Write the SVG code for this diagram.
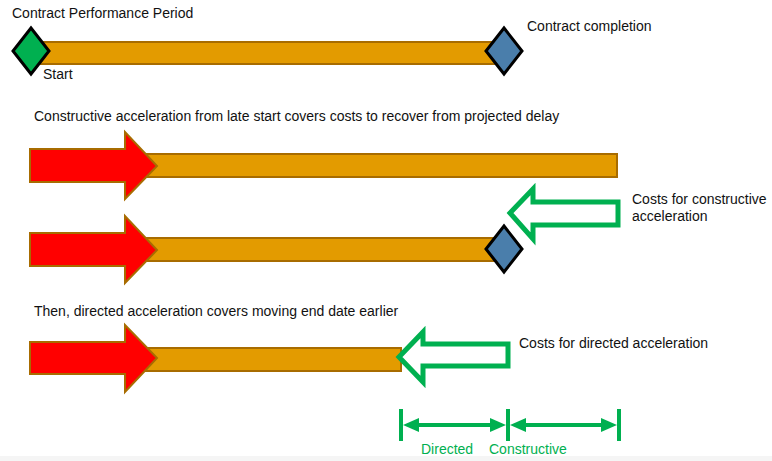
<svg xmlns="http://www.w3.org/2000/svg" width="772" height="461" viewBox="0 0 772 461">
<defs>
<style>
.t{font-family:"Liberation Sans",Arial,sans-serif;font-size:14px;fill:#111}
.g{font-family:"Liberation Sans",Arial,sans-serif;font-size:14px;fill:#00B050}
.bar{fill:#E39B00;stroke:#A86C00;stroke-width:2}
.red{fill:#FF0000;stroke:#A86C00;stroke-width:2}
.hol{fill:#fff;stroke:#00B050;stroke-width:5}
.dia{stroke:#000;stroke-width:3}
.dim{stroke:#00B050;stroke-width:4;fill:none}
.ah{fill:#00B050}
</style>
</defs>
<rect width="772" height="461" fill="#fff"/>
<rect x="0" y="456" width="772" height="5" fill="#F5F5F5"/>
<g id="row1">
<text class="t" x="12" y="18">Contract Performance Period</text>
<rect class="bar" x="30" y="42" width="475" height="22"/>
<g id="start"><polygon class="dia" fill="#00B050" points="31,28 49,51 31,74 13,51"/><text class="t" x="43" y="79">Start</text></g>
<g id="completion"><polygon class="dia" fill="#4A7EAB" points="504,28 522,51 504,74 486,51"/><text class="t" x="527" y="31">Contract completion</text></g>
</g>
<g id="row2">
<text class="t" x="34" y="121">Constructive acceleration from late start covers costs to recover from projected delay</text>
<rect class="bar" x="140" y="154" width="477" height="23"/>
<polygon class="red" points="30,149 125,149 125,132 157,166 125,199 125,182 30,182"/>
</g>
<g id="row3">
<rect class="bar" x="140" y="238" width="365" height="23"/>
<polygon class="red" points="30,233 125,233 125,216 157,250 125,283 125,266 30,266"/>
<polygon class="dia" fill="#4A7EAB" points="504,226 522,249 504,272 486,249"/>
<g id="cost-constructive">
<polygon class="hol" points="510,213 533,189 533,202 618,202 618,225 533,225 533,239"/>
<text class="t" x="632" y="204">Costs for constructive</text>
<text class="t" x="632" y="221">acceleration</text>
</g>
</g>
<g id="row4">
<text class="t" x="34" y="316">Then, directed acceleration covers moving end date earlier</text>
<rect class="bar" x="140" y="348" width="261" height="23"/>
<polygon class="red" points="30,342 125,342 125,325 157,358 125,392 125,374 30,374"/>
<g id="cost-directed">
<polygon class="hol" points="399,357 423,332 423,344 508,344 508,366 423,366 423,382"/>
<text class="t" x="519" y="348">Costs for directed acceleration</text>
</g>
</g>
<g id="connectors">
<line class="dim" x1="401" y1="409" x2="401" y2="441"/>
<line class="dim" x1="508" y1="409" x2="508" y2="441"/>
<line class="dim" x1="619" y1="409" x2="619" y2="441"/>
<line class="dim" x1="412" y1="425" x2="497" y2="425"/>
<line class="dim" x1="519" y1="425" x2="608" y2="425"/>
<polygon class="ah" points="403,425 419,418 419,432"/>
<polygon class="ah" points="506,425 490,418 490,432"/>
<polygon class="ah" points="510,425 526,418 526,432"/>
<polygon class="ah" points="617,425 601,418 601,432"/>
<text class="g" x="421" y="454">Directed</text>
<text class="g" x="489" y="454">Constructive</text>
</g>
</svg>
